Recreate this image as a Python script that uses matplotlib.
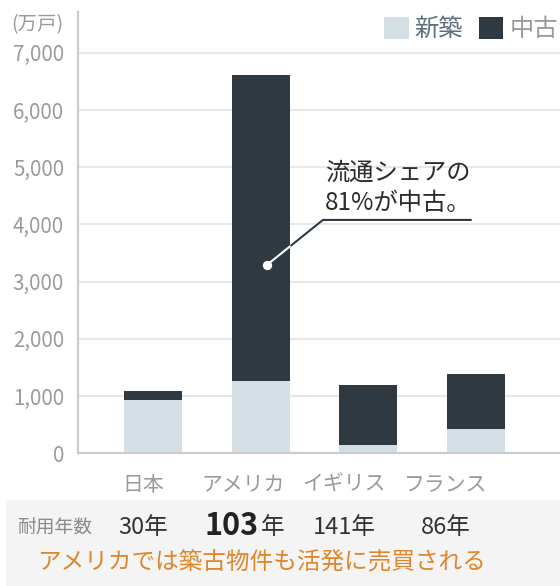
import numpy as np
import matplotlib
matplotlib.use("Agg")
import matplotlib.pyplot as plt
from matplotlib.patches import Rectangle

plt.rcParams['font.family'] = ['Noto Sans CJK JP', 'DejaVu Sans']

# データ（万戸）
countries = ['日本', 'アメリカ', 'イギリス', 'フランス']
new_built = [930, 1270, 145, 425]
existing = [160, 5350, 1055, 960]
years = [30, 103, 141, 86]
yticks = [0, 1000, 2000, 3000, 4000, 5000, 6000, 7000]

c_new = '#d4dee5'
c_old = '#2f3942'
c_gray = '#9a9a9a'

W, H = 560, 586
fig = plt.figure(figsize=(W / 100, H / 100), dpi=100)

def fx(px):
    return px / W

def fy(py):
    return 1 - py / H

ax = fig.add_axes([fx(78), fy(453.3), fx(560) - fx(78), fy(12) - fy(453.3)])
x = np.arange(len(countries))
bw = 0.54
ax.bar(x, new_built, bw, color=c_new, zorder=3, label='新築')
ax.bar(x, existing, bw, bottom=new_built, color=c_old, zorder=3, label='中古')

ax.set_xlim(-0.696, 3.779)
ax.set_ylim(0, 7715)

# 下の表の列位置（ピクセル）
col_x = [143.5, 243.5, 344, 445.5]
ax.set_yticks(yticks)
ax.set_yticklabels([f'{v:,}' for v in yticks], fontsize=14.8, color=c_gray)
ax.tick_params(axis='y', length=0, pad=10)
ax.set_xticks([(c - 153) / 107.7 for c in col_x])
ax.set_xticklabels(countries, fontsize=15, color=c_gray)
ax.tick_params(axis='x', length=0, pad=15)

for v in yticks[1:]:
    ax.axhline(v, color='#e8e8e8', lw=1.5, zorder=1)
for s in ['top', 'right']:
    ax.spines[s].set_visible(False)
for s in ['left', 'bottom']:
    ax.spines[s].set_color('#cccccc')
    ax.spines[s].set_linewidth(1.6)
    ax.spines[s].set_zorder(4)

fig.text(fx(63), fy(25), '(万戸)', fontsize=14, color=c_gray, ha='right', va='center')

# 凡例
leg = ax.legend(loc='upper right', bbox_to_anchor=(fx(558), fy(16)),
                bbox_transform=fig.transFigure, ncol=2, frameon=False,
                fontsize=17.5, handlelength=1.0, handleheight=1.0,
                handletextpad=0.25, columnspacing=0.65, borderpad=0,
                borderaxespad=0)
leg.get_texts()[0].set_color('#5d6e7e')
leg.get_texts()[1].set_color(c_gray)

# 注記
dot = (1.056, 3290)
elbow = (1.578, 4080)
end = (2.959, 4080)
ax.plot([dot[0], elbow[0], end[0]], [dot[1], elbow[1], end[1]],
        color=c_old, lw=1.5, zorder=5, solid_capstyle='butt')
edge = 1 + bw / 2
t = (edge - dot[0]) / (elbow[0] - dot[0])
ax.plot([dot[0], edge], [dot[1], dot[1] + t * (elbow[1] - dot[1])],
        color='white', lw=1.5, zorder=6)
ax.scatter([dot[0]], [dot[1]], s=45, color='white', zorder=7, lw=0)
ax.text(1.595, 4900, '流通シェアの', fontsize=17.5, color='#2b2b2b',
        ha='left', va='center', zorder=7)
ax.text(1.595, 4375, '81%が中古。', fontsize=17.5, color='#2b2b2b',
        ha='left', va='center', zorder=7)

# 下の帯
fig.patches.append(Rectangle((fx(6), 0), 1 - fx(6), fy(500), transform=fig.transFigure,
                             facecolor='#f4f4f4', edgecolor='none', zorder=0))
fig.text(fx(17), fy(527), '耐用年数', fontsize=13.5, color='#8a8a8a', ha='left', va='center')
for cx, yr in zip(col_x, years):
    if yr == 103:
        fig.text(fx(259), fy(526), f'{yr}', fontsize=22, fontweight='bold',
                 color='#222222', ha='right', va='center')
        fig.text(fx(261), fy(527), '年', fontsize=17, color='#333333',
                 ha='left', va='center')
    else:
        fig.text(fx(cx), fy(527), f'{yr}年', fontsize=17, color='#333333',
                 ha='center', va='center')
fig.text(fx(261.5), fy(562.7), 'アメリカでは築古物件も活発に売買される',
         fontsize=17, color='#e0862a', ha='center', va='center')

fig.savefig('out.png', dpi=100)
